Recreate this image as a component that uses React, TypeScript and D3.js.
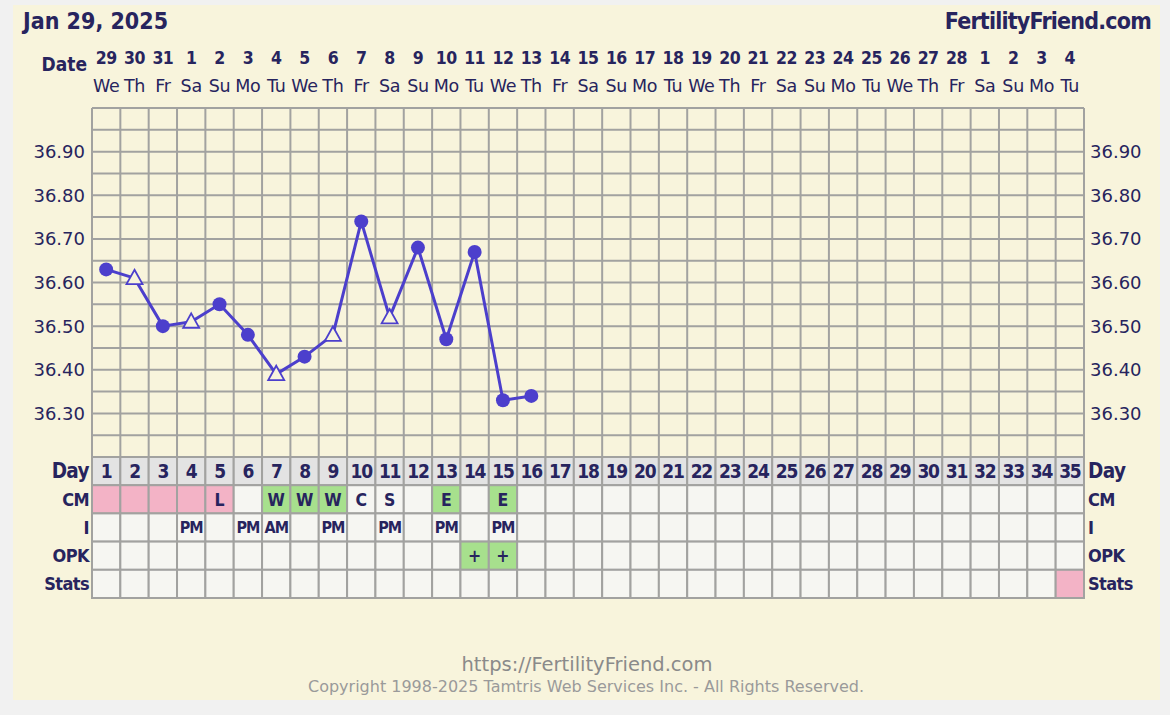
import React from 'react';
import * as d3 from 'd3';

const title = 'Jan 29, 2025';
const site = 'FertilityFriend.com';
const footerUrl = 'https://FertilityFriend.com';
const footerCopy = 'Copyright 1998-2025 Tamtris Web Services Inc. - All Rights Reserved.';

const dates = ['29','30','31','1','2','3','4','5','6','7','8','9','10','11','12','13','14','15','16','17','18','19','20','21','22','23','24','25','26','27','28','1','2','3','4'];
const weekdays = ['We','Th','Fr','Sa','Su','Mo','Tu','We','Th','Fr','Sa','Su','Mo','Tu','We','Th','Fr','Sa','Su','Mo','Tu','We','Th','Fr','Sa','Su','Mo','Tu','We','Th','Fr','Sa','Su','Mo','Tu'];
const days = d3.range(1, 36);

const temps = [36.63, 36.61, 36.50, 36.51, 36.55, 36.48, 36.39, 36.43, 36.48, 36.74, 36.52, 36.68, 36.47, 36.67, 36.33, 36.34];
const markerTypes = ['c','t','c','t','c','c','t','c','t','c','t','c','c','c','c','c'];
const yTicks = [36.3, 36.4, 36.5, 36.6, 36.7, 36.8, 36.9];
const yGridLines = d3.range(0, 17).map(i => 36.2 + i * 0.05);

const rowNames = ['Day', 'CM', 'I', 'OPK', 'Stats'];
const cmText = ['', '', '', '', 'L', '', 'W', 'W', 'W', 'C', 'S', '', 'E', '', 'E'];
const cmFill = ['p', 'p', 'p', 'p', 'p', '', 'g', 'g', 'g', '', '', '', 'g', '', 'g'];
const intercourseDays = [4, 6, 7, 9, 11, 13, 15];
const intercourseText = ['PM', 'PM', 'AM', 'PM', 'PM', 'PM', 'PM'];
const opkDays = [14, 15];
const opkText = ['+', '+'];
const statsPinkDays = [35];

const C = {
  outer: '#f1f1f1',
  cream: '#f8f4dc',
  grid: '#a2a2a0',
  dayRow: '#e3e3e3',
  cell: '#f6f6f2',
  pink: '#f3b3c6',
  green: '#a7e08d',
  text: '#27245e',
  line: '#4c3fcc',
  foot: '#8a8a8a',
};

const bold = '"DejaVu Sans Condensed", "DejaVu Sans", sans-serif';
const reg = '"DejaVu Sans", Verdana, sans-serif';

export default function App() {
  const W = 1170, H = 715;
  const x = d3.scaleBand<number>().domain(days).range([92, 1084]);
  const y = d3.scaleLinear().domain([36.2, 37.0]).range([457, 108]);
  const row = d3.scaleBand<string>().domain(rowNames).range([457, 598]);
  const cx = (d: number) => (x(d) as number) + x.bandwidth() / 2;
  const bw = x.bandwidth();
  const rh = row.bandwidth();

  const pts = temps.map((t, i) => ({ day: i + 1, t, m: markerTypes[i] }));
  const lineGen = d3.line<{ day: number; t: number }>().x(p => cx(p.day)).y(p => y(p.t));

  const cellFill = (r: string, d: number) => {
    if (r === 'Day') return C.dayRow;
    if (r === 'CM') {
      const f = cmFill[d - 1];
      if (f === 'p') return C.pink;
      if (f === 'g') return C.green;
    }
    if (r === 'OPK' && opkDays.includes(d)) return C.green;
    if (r === 'Stats' && statsPinkDays.includes(d)) return C.pink;
    return C.cell;
  };

  const cellText = (r: string, d: number) => {
    if (r === 'Day') return String(d);
    if (r === 'CM') return cmText[d - 1] || '';
    if (r === 'I') {
      const k = intercourseDays.indexOf(d);
      return k >= 0 ? intercourseText[k] : '';
    }
    if (r === 'OPK') {
      const k = opkDays.indexOf(d);
      return k >= 0 ? opkText[k] : '';
    }
    return '';
  };

  const tri = (px: number, py: number) => {
    const s = 8;
    return `M${px},${py - s * 1.05} L${px + s * 1.0},${py + s * 0.75} L${px - s * 1.0},${py + s * 0.75} Z`;
  };

  return (
    <svg width={W} height={H} style={{ position: 'fixed', left: 0, top: 0, display: 'block' }}>
      <rect x={0} y={0} width={W} height={H} fill={C.outer} />
      <rect x={13} y={5} width={1147} height={695} fill={C.cream} />

      <text x={23} y={29} fontFamily={bold} fontWeight="bold" fontSize={23} fill={C.text}>{title}</text>
      <text x={1151} y={29} fontFamily={bold} fontWeight="bold" fontSize={23} fill={C.text} textAnchor="end" letterSpacing={-0.8}>{site}</text>

      <text x={87} y={71} fontFamily={bold} fontWeight="bold" fontSize={19} fill={C.text} textAnchor="end">Date</text>
      {days.map((d, i) => (
        <g key={'dt' + d}>
          <text x={cx(d)} y={64} fontFamily={bold} fontWeight="bold" fontSize={17.5} fill={C.text} textAnchor="middle" letterSpacing={-0.5}>{dates[i]}</text>
          <text x={cx(d)} y={92} fontFamily={reg} fontSize={17.5} fill={C.text} textAnchor="middle" letterSpacing={-0.3}>{weekdays[i]}</text>
        </g>
      ))}

      {yGridLines.map((v, i) => (
        <line key={'hg' + i} x1={92} x2={1084} y1={y(v)} y2={y(v)} stroke={C.grid} strokeWidth={2} />
      ))}
      {days.concat([36]).map(d => {
        const xx = d <= 35 ? (x(d) as number) : 1084;
        return <line key={'vg' + d} x1={xx} x2={xx} y1={108} y2={457} stroke={C.grid} strokeWidth={2} />;
      })}

      {yTicks.map(v => (
        <g key={'yt' + v}>
          <text x={85} y={y(v) + 6.5} fontFamily={reg} fontSize={18} fill={C.text} textAnchor="end">{v.toFixed(2)}</text>
          <text x={1090} y={y(v) + 6.5} fontFamily={reg} fontSize={18} fill={C.text}>{v.toFixed(2)}</text>
        </g>
      ))}

      {rowNames.map(r => (
        <g key={'row' + r}>
          {days.map(d => (
            <rect key={r + d} x={x(d)} y={row(r)} width={bw} height={rh} fill={cellFill(r, d)} stroke={C.grid} strokeWidth={2} />
          ))}
          <text x={89} y={(row(r) as number) + rh / 2 + 6.5} fontFamily={bold} fontWeight="bold" fontSize={r === 'Day' ? 20.5 : 18} fill={C.text} textAnchor="end" letterSpacing={-0.6}>{r}</text>
          <text x={1088} y={(row(r) as number) + rh / 2 + 6.5} fontFamily={bold} fontWeight="bold" fontSize={r === 'Day' ? 20.5 : 18} fill={C.text} letterSpacing={-0.6}>{r}</text>
          {days.map(d => {
            const t = cellText(r, d);
            if (!t) return null;
            const fs = r === 'Day' ? 19 : r === 'I' ? 16 : 17.5;
            return (
              <text key={'t' + r + d} x={cx(d)} y={(row(r) as number) + rh / 2 + fs * 0.36} fontFamily={bold} fontWeight="bold" fontSize={fs} fill={C.text} textAnchor="middle" letterSpacing={r === 'I' ? -1 : r === 'Day' ? -1.2 : 0}>{t}</text>
            );
          })}
        </g>
      ))}

      <path d={lineGen(pts) || ''} fill="none" stroke={C.line} strokeWidth={3} strokeLinejoin="round" />
      {pts.map(p => p.m === 'c' ? (
        <circle key={'m' + p.day} cx={cx(p.day)} cy={y(p.t)} r={7} fill={C.line} />
      ) : (
        <path key={'m' + p.day} d={tri(cx(p.day), y(p.t))} fill={C.cream} stroke={C.line} strokeWidth={1.8} strokeLinejoin="miter" />
      ))}

      <text x={587} y={671} fontFamily={reg} fontSize={19.5} fill={C.foot} textAnchor="middle">{footerUrl}</text>
      <text x={586} y={692} fontFamily={reg} fontSize={16} fill="#9a9a9a" textAnchor="middle">{footerCopy}</text>
    </svg>
  );
}
